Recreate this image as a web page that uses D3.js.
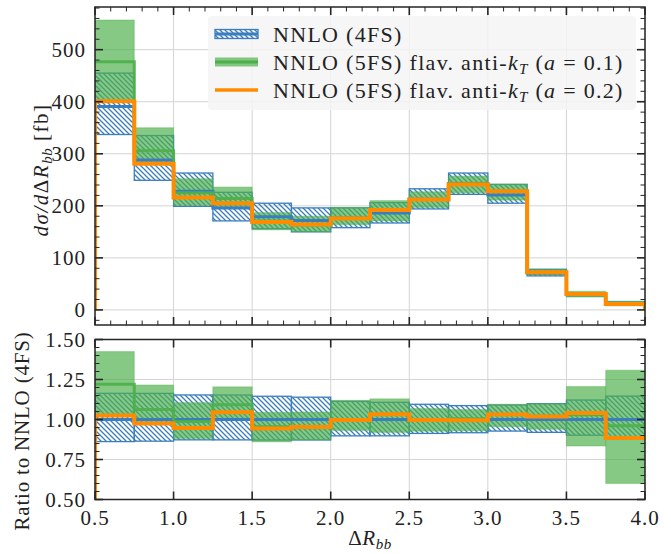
<!DOCTYPE html>
<html><head><meta charset="utf-8">
<script src="https://cdn.jsdelivr.net/npm/d3@7"></script>
<style>
html,body{margin:0;padding:0;background:#fff;}
svg text{font-family:"Liberation Serif","Times New Roman",serif;fill:#222;}
</style></head>
<body>
<svg id="chart" width="671" height="554"></svg>
<script>
// ---------------- data ----------------
const binEdges = [0.5,0.75,1.0,1.25,1.5,1.75,2.0,2.25,2.5,2.75,3.0,3.25,3.5,3.75,4.0];
const nnlo4Central = [391,288,228,196,179,172,176,186,212.5,242,221,71,29.6,13];
const nnlo4Low     = [337,249,199,171,156,150,158,167,194,222,205,65.3,26.7,11.6];
const nnlo4High    = [455,335,263,226,205,196,196,206,232.7,263,241,78,33.2,14.9];
const flav01Central = [477,306,225,214,171,163,176,192,212,243,228,72.4,30.5,12.5];
const flav01Low     = [399,284,201,196,154,150,164,171,197,225,211,66.7,24.7,7.8];
const flav01High    = [557,350,252,236,187,180,197,210,227,257,242,78,35.7,17];
const flav02Central = [401,281,216,205,169,164,175.5,192,212,241,228,72.3,30.8,11.5];

const xTicks = [0.5,1.0,1.5,2.0,2.5,3.0,3.5,4.0];
const yTicksTop = [0,100,200,300,400,500];
const yTicksRatio = [0.50,0.75,1.00,1.25,1.50];

const legendLabels = ["NNLO (4FS)", "NNLO (5FS) flav. anti-", "NNLO (5FS) flav. anti-"];

// ---------------- layout ----------------
const L = 95, R = 645;
const topY0 = 7, topY1 = 325;
const botY0 = 339.5, botY1 = 499.5;

const cBlue = "#3a7ebf", cGreen = "#4daf4a", cOrange = "#ff8c00", cFrame = "#262626", cGrid = "#d4d4d4";

const svg = d3.select("#chart");
const defs = svg.append("defs");
const pat = defs.append("pattern").attr("id","hatch").attr("patternUnits","userSpaceOnUse")
  .attr("width",5).attr("height",5);
pat.append("path").attr("d","M-1,-1 L6,6 M-1,4 L1,6 M4,-1 L6,1")
  .attr("stroke",cBlue).attr("stroke-width",1.3);

const x = d3.scaleLinear().domain([0.5,4.0]).range([L,R]);
const yTop = d3.scaleLinear().domain([-29,582]).range([topY1,topY0]);
const yBot = d3.scaleLinear().domain([0.5,1.5]).range([botY1,botY0]);

function clip(id,y0,y1){
  defs.append("clipPath").attr("id",id).append("rect")
    .attr("x",L).attr("y",y0).attr("width",R-L).attr("height",y1-y0);
}
clip("clipTop",topY0,topY1); clip("clipBot",botY0,botY1);

const bins = nnlo4Central.map((c,i)=>({i, x0:binEdges[i], x1:binEdges[i+1]}));

function stepPoints(vals, withEdges){
  const pts=[];
  if(withEdges) pts.push([binEdges[0], withEdges.start]);
  vals.forEach((v,i)=>{pts.push([binEdges[i],v]); pts.push([binEdges[i+1],v]);});
  if(withEdges && withEdges.end!==undefined) pts.push([binEdges[binEdges.length-1], withEdges.end]);
  return pts;
}

function panel(y, clipId, y0, y1, opts){
  const g = svg.append("g");
  // grid
  g.append("g").selectAll("line").data(xTicks).join("line")
    .attr("x1",d=>x(d)).attr("x2",d=>x(d)).attr("y1",y0).attr("y2",y1)
    .attr("stroke",cGrid).attr("stroke-width",1);
  g.append("g").selectAll("line").data(opts.yTicks).join("line")
    .attr("x1",L).attr("x2",R).attr("y1",d=>y(d)).attr("y2",d=>y(d))
    .attr("stroke",cGrid).attr("stroke-width",1);

  const data = g.append("g").attr("clip-path",`url(#${clipId})`);
  const f = opts.f;
  // blue hatched band
  data.append("g").selectAll("rect").data(bins).join("rect")
    .attr("x",d=>x(d.x0)).attr("width",d=>x(d.x1)-x(d.x0))
    .attr("y",d=>y(f(nnlo4High,d.i))).attr("height",d=>y(f(nnlo4Low,d.i))-y(f(nnlo4High,d.i)))
    .attr("fill","url(#hatch)").attr("stroke",cBlue).attr("stroke-width",1.3);
  // green band
  data.append("g").selectAll("rect").data(bins).join("rect")
    .attr("x",d=>x(d.x0)).attr("width",d=>x(d.x1)-x(d.x0))
    .attr("y",d=>y(f(flav01High,d.i))).attr("height",d=>y(f(flav01Low,d.i))-y(f(flav01High,d.i)))
    .attr("fill",cGreen).attr("fill-opacity",0.68)
    .attr("stroke",cGreen).attr("stroke-opacity",0.35).attr("stroke-width",1.2);
  const line = d3.line().x(d=>x(d[0])).y(d=>y(d[1]));
  const bc = nnlo4Central.map((v,i)=>f(nnlo4Central,i));
  const gc = flav01Central.map((v,i)=>f(flav01Central,i));
  const oc = flav02Central.map((v,i)=>f(flav02Central,i));
  data.append("path").attr("d",line(stepPoints(bc))).attr("fill","none")
    .attr("stroke",cBlue).attr("stroke-width",3);
  data.append("path").attr("d",line(stepPoints(gc))).attr("fill","none")
    .attr("stroke",cGreen).attr("stroke-opacity",0.9).attr("stroke-width",3);
  data.append("path").attr("d",line(stepPoints(oc,opts.edges))).attr("fill","none")
    .attr("stroke",cOrange).attr("stroke-width",4).attr("stroke-linejoin","miter");

  // frame
  g.append("rect").attr("x",L).attr("y",y0).attr("width",R-L).attr("height",y1-y0)
    .attr("fill","none").attr("stroke",cFrame).attr("stroke-width",1.5);

  // ticks (inward, all sides)
  const tk = g.append("g").attr("stroke",cFrame);
  const xMinor = opts.xMinor, yMinor = opts.yMinor;
  const majLen = 8, minLen = 4.5;
  xTicks.forEach(v=>{
    tk.append("line").attr("x1",x(v)).attr("x2",x(v)).attr("y1",y1).attr("y2",y1-majLen).attr("stroke-width",1.6);
    tk.append("line").attr("x1",x(v)).attr("x2",x(v)).attr("y1",y0).attr("y2",y0+majLen).attr("stroke-width",1.6);
  });
  xMinor.forEach(v=>{
    tk.append("line").attr("x1",x(v)).attr("x2",x(v)).attr("y1",y1).attr("y2",y1-minLen).attr("stroke-width",1);
    tk.append("line").attr("x1",x(v)).attr("x2",x(v)).attr("y1",y0).attr("y2",y0+minLen).attr("stroke-width",1);
  });
  opts.yTicks.forEach(v=>{
    tk.append("line").attr("x1",L).attr("x2",L+majLen).attr("y1",y(v)).attr("y2",y(v)).attr("stroke-width",1.6);
    tk.append("line").attr("x1",R).attr("x2",R-majLen).attr("y1",y(v)).attr("y2",y(v)).attr("stroke-width",1.6);
  });
  yMinor.forEach(v=>{
    tk.append("line").attr("x1",L).attr("x2",L+minLen).attr("y1",y(v)).attr("y2",y(v)).attr("stroke-width",1);
    tk.append("line").attr("x1",R).attr("x2",R-minLen).attr("y1",y(v)).attr("y2",y(v)).attr("stroke-width",1);
  });
  // y tick labels
  g.append("g").selectAll("text").data(opts.yTicks).join("text")
    .attr("x",86).attr("y",d=>y(d)).attr("dy","0.35em").attr("text-anchor","end")
    .attr("font-size",21).attr("letter-spacing",1).text(opts.fmt);
  return g;
}

const xMinorTop = d3.range(5,41).map(d=>d/10).filter(v=>!xTicks.some(t=>Math.abs(t-v)<1e-9));
const yMinorTop = d3.range(-20,581,20).filter(v=>v%100!==0);
const yMinorBot = d3.range(10,31).map(d=>d*0.05).filter(v=>!yTicksRatio.some(t=>Math.abs(t-v)<1e-9));

panel(yTop,"clipTop",topY0,topY1,{
  yTicks:yTicksTop, xMinor:xMinorTop, yMinor:yMinorTop, fmt:d=>d3.format("d")(d),
  f:(arr,i)=>arr[i], edges:{start:0,end:0}
});
panel(yBot,"clipBot",botY0,botY1,{
  yTicks:yTicksRatio, xMinor:[], yMinor:yMinorBot, fmt:d=>d3.format(".2f")(d),
  f:(arr,i)=>arr[i]/nnlo4Central[i], edges:{start:0}
});

// x tick labels
svg.append("g").selectAll("text").data(xTicks).join("text")
  .attr("x",d=>x(d)).attr("y",525).attr("text-anchor","middle")
  .attr("font-size",21).attr("letter-spacing",1).text(d=>d3.format(".1f")(d));

// x label
const xl = svg.append("text").attr("x",370).attr("y",545).attr("text-anchor","middle").attr("font-size",21).attr("letter-spacing",0.5);
xl.append("tspan").text("Δ");
xl.append("tspan").attr("font-style","italic").text("R");
xl.append("tspan").attr("font-style","italic").attr("font-size",15).attr("dy",4).text("bb");

// y label top
const yl = svg.append("text").attr("transform","translate(48,170) rotate(-90)")
  .attr("text-anchor","middle").attr("font-size",21).attr("letter-spacing",1.5);
yl.append("tspan").attr("font-style","italic").text("dσ/d");
yl.append("tspan").text("Δ");
yl.append("tspan").attr("font-style","italic").text("R");
yl.append("tspan").attr("font-style","italic").attr("font-size",15).attr("dy",4).attr("letter-spacing",0.5).text("bb");
yl.append("tspan").attr("dy",-4).text(" [fb]");

// y label bottom
svg.append("text").attr("transform","translate(29,431) rotate(-90)")
  .attr("text-anchor","middle").attr("font-size",21).attr("letter-spacing",0.8).text("Ratio to NNLO (4FS)");

// ---------------- legend ----------------
const lg = svg.append("g");
lg.append("rect").attr("x",208).attr("y",16).attr("width",428).attr("height",94).attr("rx",4)
  .attr("fill","#f4f4f4").attr("fill-opacity",0.85);
const hx0 = 215, hx1 = 258;
const rows = [34, 62, 90];
// blue entry
lg.append("rect").attr("x",hx0).attr("y",rows[0]-4.5).attr("width",hx1-hx0).attr("height",9)
  .attr("fill","url(#hatch)").attr("stroke",cBlue).attr("stroke-width",1.3);
lg.append("line").attr("x1",hx0).attr("x2",hx1).attr("y1",rows[0]).attr("y2",rows[0])
  .attr("stroke",cBlue).attr("stroke-width",3);
// green entry
lg.append("rect").attr("x",hx0).attr("y",rows[1]-4.5).attr("width",hx1-hx0).attr("height",9)
  .attr("fill",cGreen).attr("fill-opacity",0.68);
lg.append("line").attr("x1",hx0).attr("x2",hx1).attr("y1",rows[1]).attr("y2",rows[1])
  .attr("stroke",cGreen).attr("stroke-width",3);
// orange entry
lg.append("line").attr("x1",hx0).attr("x2",hx1).attr("y1",rows[2]).attr("y2",rows[2])
  .attr("stroke",cOrange).attr("stroke-width",3.5);

lg.append("text").attr("x",273).attr("y",rows[0]).attr("dy","0.35em").attr("font-size",22)
  .attr("letter-spacing",1.3).text(legendLabels[0]);
["0.1","0.2"].forEach((a,k)=>{
  const t = lg.append("text").attr("x",273).attr("y",rows[k+1]).attr("dy","0.35em").attr("font-size",22).attr("letter-spacing",1.3);
  t.append("tspan").text(legendLabels[k+1]);
  t.append("tspan").attr("font-style","italic").text("k");
  t.append("tspan").attr("font-style","italic").attr("font-size",15).attr("dy",4).text("T");
  t.append("tspan").attr("dy",-4).text("  (");
  t.append("tspan").attr("font-style","italic").text("a");
  t.append("tspan").text(" = " + a + ")");
});
</script>
</body></html>
